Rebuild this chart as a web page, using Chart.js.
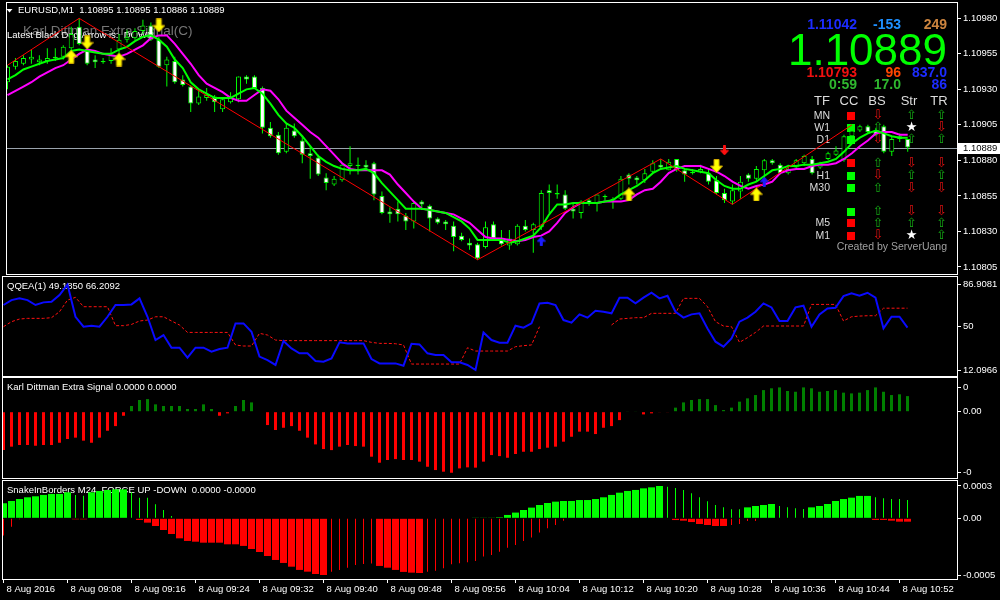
<!DOCTYPE html>
<html>
<head>
<meta charset="utf-8">
<title>EURUSD,M1</title>
<script src="https://cdn.jsdelivr.net/npm/chart.js@4.4.1/dist/chart.umd.min.js"></script>
<style>
  body { margin: 0; background: #000; width: 1000px; height: 600px; overflow: hidden; position: relative; }
  canvas { position: absolute; left: 0; }
</style>
</head>
<body>
<canvas id="mainChart" width="1000" height="290" style="top:-8px"></canvas>
<canvas id="qqeChart" width="1000" height="115" style="top:269px"></canvas>
<canvas id="karlChart" width="1000" height="116" style="top:370px"></canvas>
<canvas id="snakeChart" width="1000" height="127" style="top:473px"></canvas>
<script>
// ---- price data, one candle per minute from 09:00 ----
const opens = [1.10935,1.10946,1.10948,1.10951,1.10949,1.10950,1.10952,1.10953,1.10959,1.10974,
  1.10958,1.10951,1.10949,1.10950,1.10958,1.10965,1.10966,1.10971,1.10975,1.10965,
  1.10947,1.10950,1.10937,1.10932,1.10920,1.10924,1.10925,1.10916,1.10921,1.10923,
  1.10939,1.10939,1.10931,1.10903,1.10898,1.10886,1.10901,1.10894,1.10885,1.10882,
  1.10868,1.10863,1.10866,1.10876,1.10876,1.10877,1.10878,1.10855,1.10844,1.10846,
  1.10841,1.10837,1.10851,1.10848,1.10839,1.10837,1.10834,1.10827,1.10822,1.10821,
  1.10819,1.10835,1.10824,1.10820,1.10821,1.10834,1.10831,1.10833,1.10859,1.10857,
  1.10856,1.10846,1.10843,1.10852,1.10850,1.10855,1.10853,1.10853,1.10870,1.10868,
  1.10866,1.10872,1.10877,1.10873,1.10881,1.10873,1.10872,1.10872,1.10871,1.10866,
  1.10857,1.10851,1.10858,1.10870,1.10867,1.10873,1.10880,1.10877,1.10871,1.10875,
  1.10878,1.10881,1.10875,1.10881,1.10884,1.10880,1.10897,1.10901,1.10904,1.10901,
  1.10904,1.10886,1.10897,1.10895];
const highs = [1.10947,1.10952,1.10954,1.10958,1.10954,1.10959,1.10959,1.10961,1.10974,1.10980,
  1.10960,1.10954,1.10952,1.10959,1.10969,1.10972,1.10973,1.10979,1.10977,1.10967,
  1.10953,1.10953,1.10940,1.10933,1.10930,1.10931,1.10926,1.10924,1.10928,1.10939,
  1.10940,1.10940,1.10932,1.10907,1.10900,1.10906,1.10906,1.10897,1.10890,1.10884,
  1.10871,1.10869,1.10878,1.10890,1.10882,1.10880,1.10879,1.10858,1.10847,1.10851,
  1.10843,1.10851,1.10852,1.10849,1.10840,1.10838,1.10837,1.10829,1.10825,1.10822,
  1.10837,1.10837,1.10831,1.10831,1.10835,1.10838,1.10836,1.10859,1.10863,1.10863,
  1.10859,1.10850,1.10852,1.10853,1.10856,1.10856,1.10854,1.10869,1.10871,1.10869,
  1.10874,1.10880,1.10881,1.10881,1.10881,1.10874,1.10874,1.10877,1.10874,1.10869,
  1.10860,1.10863,1.10869,1.10871,1.10876,1.10881,1.10881,1.10878,1.10877,1.10881,
  1.10884,1.10883,1.10879,1.10886,1.10890,1.10898,1.10905,1.10905,1.10905,1.10903,
  1.10905,1.10897,1.10899,1.10895];
const lows = [1.10930,1.10944,1.10947,1.10948,1.10947,1.10948,1.10950,1.10951,1.10955,1.10961,
  1.10947,1.10945,1.10948,1.10948,1.10955,1.10963,1.10965,1.10969,1.10964,1.10945,
  1.10932,1.10934,1.10932,1.10914,1.10919,1.10922,1.10914,1.10914,1.10920,1.10921,
  1.10934,1.10931,1.10899,1.10896,1.10884,1.10885,1.10896,1.10878,1.10867,1.10869,
  1.10859,1.10862,1.10865,1.10870,1.10870,1.10874,1.10852,1.10842,1.10836,1.10837,
  1.10831,1.10832,1.10845,1.10830,1.10835,1.10831,1.10816,1.10823,1.10817,1.10810,
  1.10818,1.10824,1.10820,1.10817,1.10820,1.10830,1.10815,1.10831,1.10843,1.10853,
  1.10845,1.10839,1.10839,1.10848,1.10844,1.10852,1.10846,1.10852,1.10863,1.10863,
  1.10864,1.10871,1.10874,1.10873,1.10872,1.10865,1.10870,1.10871,1.10863,1.10856,
  1.10850,1.10849,1.10853,1.10865,1.10865,1.10866,1.10877,1.10870,1.10870,1.10874,
  1.10876,1.10870,1.10874,1.10880,1.10883,1.10879,1.10895,1.10900,1.10899,1.10897,
  1.10885,1.10883,1.10893,1.10886];
const closes = [1.10946,1.10950,1.10952,1.10953,1.10951,1.10952,1.10953,1.10960,1.10969,1.10962,
  1.10948,1.10949,1.10950,1.10954,1.10965,1.10967,1.10971,1.10975,1.10965,1.10946,
  1.10951,1.10935,1.10933,1.10920,1.10925,1.10926,1.10921,1.10923,1.10924,1.10939,
  1.10937,1.10931,1.10903,1.10897,1.10885,1.10903,1.10897,1.10884,1.10883,1.10870,
  1.10864,1.10867,1.10877,1.10878,1.10877,1.10875,1.10856,1.10843,1.10842,1.10842,
  1.10837,1.10850,1.10849,1.10839,1.10836,1.10835,1.10826,1.10824,1.10820,1.10811,
  1.10833,1.10825,1.10821,1.10825,1.10834,1.10831,1.10835,1.10857,1.10857,1.10856,
  1.10846,1.10844,1.10851,1.10850,1.10856,1.10854,1.10852,1.10867,1.10867,1.10866,
  1.10871,1.10878,1.10875,1.10879,1.10873,1.10870,1.10871,1.10874,1.10865,1.10857,
  1.10852,1.10859,1.10865,1.10867,1.10874,1.10880,1.10878,1.10871,1.10874,1.10880,
  1.10883,1.10871,1.10878,1.10885,1.10887,1.10897,1.10901,1.10904,1.10900,1.10898,
  1.10886,1.10895,1.10895,1.10889];

// moving averages
const maFast = [1.10937,1.10940,1.10944,1.10946,1.10948,1.10950,1.10951,1.10952,1.10957,1.10958,
  1.10957,1.10956,1.10955,1.10955,1.10958,1.10960,1.10964,1.10967,1.10968,1.10965,
  1.10960,1.10951,1.10945,1.10935,1.10930,1.10927,1.10924,1.10924,1.10924,1.10927,
  1.10930,1.10931,1.10927,1.10920,1.10912,1.10906,1.10903,1.10897,1.10890,1.10883,
  1.10879,1.10876,1.10874,1.10873,1.10873,1.10874,1.10871,1.10864,1.10858,1.10852,
  1.10846,1.10846,1.10846,1.10845,1.10844,1.10843,1.10840,1.10837,1.10832,1.10824,
  1.10824,1.10824,1.10824,1.10822,1.10823,1.10825,1.10827,1.10833,1.10842,1.10849,
  1.10849,1.10850,1.10850,1.10850,1.10850,1.10851,1.10852,1.10856,1.10859,1.10862,
  1.10866,1.10871,1.10874,1.10875,1.10876,1.10874,1.10873,1.10872,1.10871,1.10866,
  1.10862,1.10860,1.10860,1.10863,1.10865,1.10869,1.10873,1.10874,1.10876,1.10876,
  1.10877,1.10877,1.10878,1.10879,1.10881,1.10886,1.10892,1.10896,1.10899,1.10901,
  1.10899,1.10897,1.10896,1.10896];
const maSlow = [1.10926,1.10929,1.10932,1.10935,1.10939,1.10942,1.10945,1.10947,1.10951,1.10955,
  1.10958,1.10957,1.10955,1.10954,1.10953,1.10955,1.10958,1.10961,1.10966,1.10968,
  1.10968,1.10962,1.10955,1.10948,1.10940,1.10934,1.10931,1.10928,1.10924,1.10922,
  1.10922,1.10926,1.10930,1.10929,1.10923,1.10915,1.10910,1.10905,1.10900,1.10896,
  1.10890,1.10884,1.10878,1.10874,1.10873,1.10873,1.10873,1.10873,1.10870,1.10863,
  1.10857,1.10851,1.10846,1.10845,1.10844,1.10843,1.10842,1.10839,1.10836,1.10831,
  1.10826,1.10825,1.10825,1.10824,1.10823,1.10824,1.10826,1.10827,1.10830,1.10836,
  1.10843,1.10847,1.10850,1.10850,1.10850,1.10851,1.10851,1.10851,1.10852,1.10856,
  1.10859,1.10860,1.10865,1.10871,1.10874,1.10876,1.10876,1.10876,1.10874,1.10872,
  1.10869,1.10865,1.10862,1.10860,1.10862,1.10863,1.10865,1.10871,1.10873,1.10874,
  1.10874,1.10876,1.10877,1.10877,1.10878,1.10881,1.10885,1.10890,1.10894,1.10899,
  1.10900,1.10900,1.10898,1.10898];

const zigBars = [0, 9, 59, 82, 91, 106];
const zigPrices = [1.10947, 1.10980, 1.10810, 1.10881, 1.10849, 1.10905];

const yellowUpBars = [8, 14, 78, 94];
const yellowUpPrices = [1.10953, 1.10951, 1.10856, 1.10856];
const yellowDownBars = [10, 19, 89];
const yellowDownPrices = [1.10963, 1.10975, 1.10876];
const blueUpBars = [67, 95];
const blueUpPrices = [1.10823, 1.10865];
const redDownBars = [90];
const redDownPrices = [1.10887];

const priceTicks = [1.10980, 1.10955, 1.10930, 1.10905, 1.10880, 1.10855, 1.10830, 1.10805];
const timeTickBars = [0, 8, 16, 24, 32, 40, 48, 56, 64, 72, 80, 88, 96, 104, 112];
const timeLabels = ['8 Aug 2016', '8 Aug 09:08', '8 Aug 09:16', '8 Aug 09:24', '8 Aug 09:32',
  '8 Aug 09:40', '8 Aug 09:48', '8 Aug 09:56', '8 Aug 10:04', '8 Aug 10:12', '8 Aug 10:20',
  '8 Aug 10:28', '8 Aug 10:36', '8 Aug 10:44', '8 Aug 10:52'];

// ---- QQEA ----
const qqeMain = [69.0,73.3,74.8,73.3,69.0,71.3,71.9,77.7,86.9081,58.7,
  50.0,50.9,50.0,58.7,69.0,69.0,69.5,74.8,58.7,38.3,
  42.7,31.6,31.6,22.9,31.6,31.6,28.1,30.5,31.6,52.9,
  52.9,45.6,23.8,20.8,16.5,37.5,31.0,26.7,26.7,20.0,
  19.4,22.3,36.3,35.4,35.4,35.4,21.7,17.9,17.9,17.9,
  15.9,35.1,34.5,26.7,25.2,25.2,18.8,18.8,16.5,12.0966,
  45.0,38.3,36.0,36.0,50.9,49.1,52.9,70.4,71.0,69.0,
  55.8,53.5,60.8,57.9,64.0,63.1,61.7,75.4,75.4,70.4,
  75.4,79.7,74.8,77.1,63.1,57.9,60.8,61.7,48.5,36.9,
  32.5,39.8,54.4,57.9,63.1,70.4,66.9,55.0,55.0,66.9,
  68.4,50.0,60.8,66.0,66.6,76.8,79.2,77.1,79.7,75.4,
  48.5,58.7,58.7,49.185];
const qqeSignal = [50.0,54.4,56.7,57.3,57.3,57.3,57.9,63.1,73.3,75.7,
  67.5,67.5,67.5,67.5,50.9,50.9,52.0,55.0,55.8,58.7,
  58.7,55.0,51.5,45.0,45.0,45.0,45.0,45.0,45.0,34.0,
  33.1,33.1,44.2,42.7,38.3,37.8,37.8,37.8,37.8,37.8,
  37.8,37.8,37.8,37.8,37.8,37.8,36.3,35.4,35.4,35.1,
  34.0,17.3,17.3,17.3,17.3,17.3,17.3,17.3,31.6,28.7,
  28.7,28.7,28.7,28.7,32.5,33.4,34.0,50.0,null,null,
  null,null,null,null,null,null,51.5,56.7,57.3,57.9,
  57.9,61.7,61.7,61.7,61.7,74.8,74.8,74.8,67.5,54.4,
  50.6,50.0,36.3,40.4,45.0,50.6,50.6,50.6,50.6,50.6,
  50.6,69.5,69.5,69.5,69.5,55.0,58.7,59.3,59.6,59.6,
  66.2,66.2,66.2,66.2092];

// ---- Karl Dittman Extra Signal ----
const karlSignal = [-0.256,-0.233,-0.222,-0.222,-0.227,-0.222,-0.222,-0.207,-0.182,-0.173,
  -0.193,-0.207,-0.173,-0.127,-0.096,-0.027,0.038,0.078,0.084,0.049,
  0.038,0.038,0.038,0.018,0.018,0.049,0.018,-0.027,-0.011,0.038,
  0.078,0.062,0,-0.089,-0.122,-0.107,-0.096,-0.127,-0.173,-0.218,
  -0.249,-0.256,-0.233,-0.222,-0.229,-0.233,-0.300,-0.340,-0.322,-0.316,
  -0.322,-0.322,-0.333,-0.367,-0.389,-0.400,-0.407,-0.378,-0.371,-0.373,
  -0.333,-0.289,-0.296,-0.307,-0.282,-0.267,-0.267,-0.249,-0.240,-0.233,
  -0.200,-0.167,-0.133,-0.133,-0.149,-0.107,-0.096,-0.056,0.004,0.004,
  -0.018,-0.011,-0.004,-0.004,0.027,0.062,0.078,0.084,0.084,0.044,
  0.011,0.027,0.067,0.089,0.111,0.144,0.156,0.162,0.138,0.133,
  0.162,0.156,0.133,0.138,0.144,0.127,0.122,0.127,0.144,0.162,
  0.133,0.111,0.116,0.104];

// ---- SnakeInBorders ----
const snakeForceUp = [0.000121,0.000139,0.000155,0.000169,0.000177,0.000188,0.000196,0.000196,0.000209,0,
  0,0.000209,0.000220,0.000228,0.000233,0.000233,0,0,0,0,
  0,0,0,0,0,0,0,0,0,0,
  0,0,0,0,0,0,0,0,0,0,
  0,0,0,0,0,0,0,0,0,0,
  0,0,0,0,0,0,0,0,0,0.000003,
  0.000003,0.000003,0.000008,0.000027,0.000046,0.000067,0.000086,0.000107,0.000123,0.000134,
  0.000139,0.000139,0.000147,0.000147,0.000155,0.000169,0.000188,0.000206,0.000220,0.000228,
  0.000241,0.000249,0.000260,0,0,0,0,0,0,0,
  0,0,0,0.000088,0.000099,0.000107,0.000115,0,0,0,
  0,0.000088,0.000099,0.000115,0.000139,0.000155,0.000166,0.000180,0.000180,0,
  0,0,0,0];
const snakeForceDown = [0,0,0,0,0,0,0,0,0,-0.000008,
  -0.000008,0,0,0,0,0,0,-0.000013,-0.000035,-0.000062,
  -0.000094,-0.000126,-0.000161,-0.000182,-0.000188,-0.000196,-0.000196,-0.000196,-0.000209,-0.000209,
  -0.000222,-0.000247,-0.000271,-0.000303,-0.000335,-0.000359,-0.000389,-0.000415,-0.000429,-0.000448,
  -0.000456,0,0,0,0,0,0,-0.000383,-0.000397,-0.000415,
  -0.000431,-0.000437,-0.000440,0,0,0,0,0,0,0,
  0,0,0,0,0,0,0,0,0,0,
  0,0,0,0,0,0,0,0,0,0,
  0,0,0,0,-0.000014,-0.000019,-0.000030,-0.000046,-0.000054,-0.000062,
  -0.000062,0,0,0,0,0,0,0,0,0,
  0,0,0,0,0,0,0,0,0,-0.000013,
  -0.000013,-0.000019,-0.000027,-0.000027];
const snakeLineUp = [0,0,0,0,0,0,0,0,0,0.000188,
  0.000182,0,0,0,0,0,0.000209,0.000166,0.000166,0.000113,
  0.000067,0.000019,0,0,0,0,0,0,0,0,
  0,0,0,0,0,0,0,0,0,0,
  0,0,0,0,0,0,0,0,0,0,
  0,0,0,0,0,0,0,0,0,0,
  0,0,0,0,0,0,0,0,0,0,
  0,0,0,0,0,0,0,0,0,0,
  0,0,0,0.000254,0.000244,0.000228,0.000201,0.000169,0.000137,0.000107,
  0.000088,0.000072,0.000072,0,0,0,0,0.000099,0.000088,0.000080,
  0.000075,0,0,0,0,0,0,0,0,0.000169,
  0.000161,0.000155,0.000155,0.000147];
const snakeLineDown = [-0.000139,-0.000067,-0.000008,0,0,0,0,0,0,0,
  0,0,0,0,0,0,0,0,0,0,
  0,0,0,0,0,0,0,0,0,0,
  0,0,0,0,0,0,0,0,0,0,
  0,-0.000429,-0.000416,-0.000397,-0.000375,-0.000367,-0.000364,0,0,0,
  0,0,0,-0.000429,-0.000421,-0.000402,-0.000370,-0.000362,-0.000354,-0.000343,
  -0.000308,-0.000295,-0.000268,-0.000236,-0.000214,-0.000182,-0.000155,-0.000115,-0.000080,-0.000054,
  -0.000019,0,0,0,0,0,0,0,0,0,
  0,0,0,0,0,0,0,0,0,0,
  0,-0.000054,-0.000046,-0.000022,-0.000022,0,0,0,0,0,
  0,0,0,0,0,0,0,0,0,0,
  0,0,0,0];

// ---- info panel texts ----
const infoTop = ['1.11042', '-153', '249'];
const bigPrice = '1.10889';
const infoMid = ['1.10793', '96', '837.0'];
const infoLow = ['0:59', '17.0', '86'];
const tableHead = ['TF', 'CC', 'BS', 'Str', 'TR'];
const tfNames = ['MN', 'W1', 'D1', '', 'H1', 'M30', '', 'M5', 'M1'];
const ccState = ['dn', 'up', 'up', 'dn', 'up', 'up', 'up', 'dn', 'dn'];
const bsState = ['dn', 'up', 'dn', 'up', 'dn', 'up', 'up', 'up', 'dn'];
const strState = ['up', 'star', 'up', 'dn', 'up', 'dn', 'dn', 'up', 'star'];
const trState = ['up', 'dn', 'up', 'dn', 'up', 'dn', 'dn', 'up', 'up'];

Chart.defaults.font.family = "'Liberation Sans', Arial, sans-serif";
Chart.defaults.font.size = 9.5;
Chart.defaults.color = '#fff';
Chart.defaults.animation = false;
Chart.defaults.events = [];
Chart.defaults.plugins.legend.display = false;
Chart.defaults.plugins.tooltip.enabled = false;

const FONT = "'Liberation Sans', Arial, sans-serif";
const bars = opens.map((_, i) => i);

function makeArrow(fill, edge, w, h, shaft, head, down) {
  const c = document.createElement('canvas');
  c.width = w; c.height = h;
  const g = c.getContext('2d');
  if (down) { g.translate(0, h); g.scale(1, -1); }
  g.beginPath();
  g.moveTo(w / 2, 0.5);
  g.lineTo(w - 0.5, head);
  g.lineTo(w / 2 + shaft / 2, head);
  g.lineTo(w / 2 + shaft / 2, h - 0.5);
  g.lineTo(w / 2 - shaft / 2, h - 0.5);
  g.lineTo(w / 2 - shaft / 2, head);
  g.lineTo(0.5, head);
  g.closePath();
  g.fillStyle = fill; g.fill();
  g.strokeStyle = edge; g.lineWidth = 1; g.stroke();
  return c;
}
const yellowUp = makeArrow('#ffff00', '#d0a800', 13, 14, 5, 7, false);
const yellowDown = makeArrow('#ffff00', '#d0a800', 13, 14, 5, 7, true);
const blueUp = makeArrow('#1c1cff', '#1c1cff', 9, 10, 2, 5, false);
const redDown = makeArrow('#ff1010', '#ff1010', 9, 10, 2, 5, true);

function xAxis(show) {
  const ax = { type: 'linear', min: -0.0625, max: 119.1875, bounds: 'data', offset: false,
               display: show, grid: { offset: false } };
  if (show) {
    Object.assign(ax, {
      afterFit: s => { s.height = 21; },
      afterBuildTicks: s => { s.ticks = timeTickBars.map(v => ({ value: v })); },
      grid: { offset: false, drawOnChartArea: false, drawTicks: true, tickLength: 4, color: '#fff' },
      border: { display: false },
      ticks: { autoSkip: false, maxRotation: 0, align: 'start', labelOffset: 3, padding: 1,
               color: '#fff', callback: (v, i) => timeLabels[i] }
    });
  }
  return ax;
}

function yAxis(min, max, tickVals, fmt) {
  return {
    position: 'right', min: min, max: max, bounds: 'data',
    afterFit: s => { s.width = 43; },
    afterBuildTicks: s => { s.ticks = tickVals.map(v => ({ value: v })); },
    grid: { drawOnChartArea: false, drawTicks: true, tickLength: 4, color: '#fff' },
    border: { display: false },
    ticks: { autoSkip: false, padding: 2, color: '#fff', callback: fmt }
  };
}

// white frame round each pane plus its title line
function paneFrame(title) {
  return {
    id: 'paneFrame',
    beforeDatasetsDraw(chart) {
      if (!title) return;
      const { ctx, chartArea: a } = chart;
      ctx.save();
      ctx.font = '9.5px ' + FONT;
      ctx.fillStyle = '#fff';
      ctx.textBaseline = 'middle';
      ctx.fillText(title, a.left + 4, a.top + 9);
      ctx.restore();
    },
    afterDraw(chart) {
      const { ctx, chartArea: a } = chart;
      ctx.save();
      ctx.strokeStyle = '#fff';
      ctx.lineWidth = 1;
      ctx.strokeRect(a.left - 0.5, a.top - 0.5, a.right - a.left + 1, a.bottom - a.top + 1);
      ctx.restore();
    }
  };
}

function put(ctx, s, x, y, font, color, align) {
  ctx.font = font;
  ctx.fillStyle = color;
  ctx.textAlign = align || 'left';
  ctx.textBaseline = 'middle';
  ctx.fillText(s, x, y);
}

const mainOverlay = {
  id: 'mainOverlay',
  beforeDatasetsDraw(chart) {
    const { ctx, chartArea: a, scales: { y } } = chart;
    ctx.save();
    ctx.translate(0, 8);  // pane canvas starts 8px above the page
    // bid line
    const by = Math.round(y.getPixelForValue(closes[closes.length - 1])) - 8 + 0.5;
    ctx.strokeStyle = '#9aa3ad';
    ctx.lineWidth = 1;
    ctx.beginPath(); ctx.moveTo(a.left, by); ctx.lineTo(a.right, by); ctx.stroke();

    // chart title
    ctx.fillStyle = '#fff';
    ctx.beginPath(); ctx.moveTo(6.5, 9); ctx.lineTo(12.5, 9); ctx.lineTo(9.5, 12.5); ctx.closePath(); ctx.fill();
    put(ctx, 'EURUSD,M1  1.10895 1.10895 1.10886 1.10889', 18, 10.7, '9.5px ' + FONT, '#fff');
    put(ctx, 'Karl Dittman Extra Signal(C)', 23, 31.7, '13.5px ' + FONT, '#767676');
    put(ctx, 'Latest Black Dog Arrow is:  DOWN', 7, 35.7, '9.5px ' + FONT, '#fff');

    // info block
    const right = [857, 901, 947];
    const bold = 'bold 14px ' + FONT;
    const topCol = ['#1c2cff', '#1e90ff', '#cd853f'];
    const midCol = ['#f01010', '#ff4500', '#1c2cff'];
    const lowCol = ['#2fb82f', '#2fb82f', '#1c2cff'];
    for (let k = 0; k < 3; k++) {
      put(ctx, infoTop[k], right[k], 25.3, bold, topCol[k], 'right');
      put(ctx, infoMid[k], right[k], 72.8, bold, midCol[k], 'right');
      put(ctx, infoLow[k], right[k], 85.5, bold, lowCol[k], 'right');
    }
    ctx.font = '44px ' + FONT;
    ctx.fillStyle = '#00ff00';
    ctx.textAlign = 'right';
    ctx.textBaseline = 'alphabetic';
    ctx.fillText(bigPrice, 947, 65);

    const headX = [822, 849, 877, 909, 939];
    tableHead.forEach((h, k) => put(ctx, h, headX[k], 101, '13px ' + FONT, '#dcdcdc', 'center'));
    const rowY = [116, 127.7, 140, 163.3, 176, 188.3, 211.7, 223.3, 236];
    const glyph = { up: ['\u21E7', '#14a814'], dn: ['\u21E9', '#e01010'], star: ['\u2605', '#ffffff'] };
    const arrowFont = "13px 'DejaVu Sans', sans-serif";
    rowY.forEach((ry, r) => {
      if (tfNames[r]) put(ctx, tfNames[r], 830, ry, '10.5px ' + FONT, '#dcdcdc', 'right');
      ctx.fillStyle = ccState[r] === 'up' ? '#00ff00' : '#ff0000';
      ctx.fillRect(847, Math.round(ry - 4), 8, 8);
      [[bsState, 878], [strState, 911.5], [trState, 941.5]].forEach(([col, gx]) => {
        const g = glyph[col[r]];
        put(ctx, g[0], gx, ry, arrowFont, g[1], 'center');
      });
    });
    put(ctx, 'Created by ServerUang', 947, 247, '10.5px ' + FONT, '#a0a0a0', 'right');
    ctx.restore();
  },
  afterDraw(chart) {
    const { ctx, scales: { y } } = chart;
    const by = Math.round(y.getPixelForValue(closes[closes.length - 1]));
    ctx.save();
    ctx.fillStyle = '#fff';
    ctx.fillRect(958, by - 5, 42, 11);
    put(ctx, closes[closes.length - 1].toFixed(5), 963, by + 0.5, '9.5px ' + FONT, '#000');
    ctx.restore();
  }
};

function arrowSet(xs, ys, img) {
  return { type: 'line', data: xs.map((b, k) => ({ x: b, y: ys[k] })), showLine: false,
           pointStyle: img, pointRadius: 6, order: 0 };
}

new Chart(document.getElementById('mainChart'), {
  type: 'bar',
  data: {
    datasets: [
      { data: bars.map(i => ({ x: i, y: [lows[i], highs[i]] })), backgroundColor: '#00ff00',
        barThickness: 1, grouped: false, inflateAmount: 0, borderWidth: 0, order: 6 },
      { data: bars.map(i => ({ x: i, y: [opens[i], closes[i]] })),
        backgroundColor: bars.map(i => closes[i] < opens[i] ? '#ffffff' : '#000000'),
        borderColor: '#00ff00', borderWidth: 1, borderSkipped: false,
        barThickness: 5, grouped: false, inflateAmount: 0, order: 5 },
      { type: 'line', data: bars.map(i => ({ x: i, y: maSlow[i] })), borderColor: '#ff00ff',
        borderWidth: 2, pointRadius: 0, order: 4 },
      { type: 'line', data: bars.map(i => ({ x: i, y: maFast[i] })), borderColor: '#00ff00',
        borderWidth: 2, pointRadius: 0, order: 3 },
      { type: 'line', data: zigBars.map((b, k) => ({ x: b, y: zigPrices[k] })), borderColor: '#ff0000',
        borderWidth: 1, pointRadius: 0, order: 2 },
      arrowSet(yellowUpBars, yellowUpPrices, yellowUp),
      arrowSet(yellowDownBars, yellowDownPrices, yellowDown),
      arrowSet(blueUpBars, blueUpPrices, blueUp),
      arrowSet(redDownBars, redDownPrices, redDown)
    ]
  },
  options: {
    responsive: false, devicePixelRatio: 1,
    layout: { padding: { left: 3, top: 11, bottom: 8, right: 0 } },
    scales: {
      x: xAxis(false),
      y: yAxis(1.108, 1.109908, priceTicks, v => v.toFixed(5))
    }
  },
  plugins: [paneFrame(''), mainOverlay]
});

new Chart(document.getElementById('qqeChart'), {
  type: 'line',
  data: {
    datasets: [
      { data: bars.map(i => ({ x: i, y: qqeMain[i] })), borderColor: '#0a0aff', borderWidth: 2,
        pointRadius: 0, order: 0 },
      { data: bars.map(i => ({ x: i, y: qqeSignal[i] })), borderColor: '#ff1010', borderWidth: 1,
        borderDash: [3, 2], pointRadius: 0, spanGaps: false, order: 1 }
    ]
  },
  options: {
    responsive: false, devicePixelRatio: 1,
    layout: { padding: { left: 3, top: 8, bottom: 8, right: 0 } },
    scales: {
      x: xAxis(false),
      y: yAxis(6.85, 93.5, [Math.max(...qqeMain), 50, Math.min(...qqeMain)],
               (v, i) => i === 1 ? '50' : v.toFixed(4))
    }
  },
  plugins: [paneFrame('QQEA(1) ' + qqeMain[qqeMain.length - 1].toFixed(4) + ' ' +
                      qqeSignal[qqeSignal.length - 1].toFixed(4))]
});

new Chart(document.getElementById('karlChart'), {
  type: 'bar',
  data: {
    datasets: [
      { data: bars.map(i => ({ x: i, y: karlSignal[i] })),
        backgroundColor: karlSignal.map(v => v >= 0 ? '#008000' : '#ff0000'),
        barThickness: 3, inflateAmount: 0, borderWidth: 0 }
    ]
  },
  options: {
    responsive: false, devicePixelRatio: 1,
    layout: { padding: { left: 3, top: 8, bottom: 8, right: 0 } },
    scales: {
      x: xAxis(false),
      y: yAxis(-0.442, 0.2247, [Math.max(...karlSignal), 0, Math.min(...karlSignal)],
               (v, i) => i === 1 ? '0.00' : v.toFixed(0))
    }
  },
  plugins: [paneFrame('Karl Dittman Extra Signal 0.0000 0.0000')]
});

const snakeMax = Math.max(...snakeForceUp, ...snakeLineUp);
const snakeMin = Math.min(...snakeForceDown, ...snakeLineDown);
function snakeSet(vals, color, width) {
  return { data: bars.map(i => ({ x: i, y: vals[i] })), backgroundColor: color,
           barThickness: width, grouped: false, inflateAmount: 0, borderWidth: 0 };
}
new Chart(document.getElementById('snakeChart'), {
  type: 'bar',
  data: {
    datasets: [
      snakeSet(snakeForceUp, '#00ff00', 7),
      snakeSet(snakeForceDown, '#ff0000', 7),
      snakeSet(snakeLineUp, '#00ff00', 1),
      snakeSet(snakeLineDown, '#ff0000', 1)
    ]
  },
  options: {
    responsive: false, devicePixelRatio: 1,
    layout: { padding: { left: 3, top: 8, bottom: 0, right: 0 } },
    scales: {
      x: xAxis(true),
      y: yAxis(-0.000488, 0.0003, [snakeMax, 0, snakeMin],
               (v, i) => i === 1 ? '0.00' : v.toFixed(4))
    }
  },
  plugins: [paneFrame('SnakeInBorders M24, FORCE UP -DOWN  0.0000 -0.0000')]
});
</script>
</body>
</html>
